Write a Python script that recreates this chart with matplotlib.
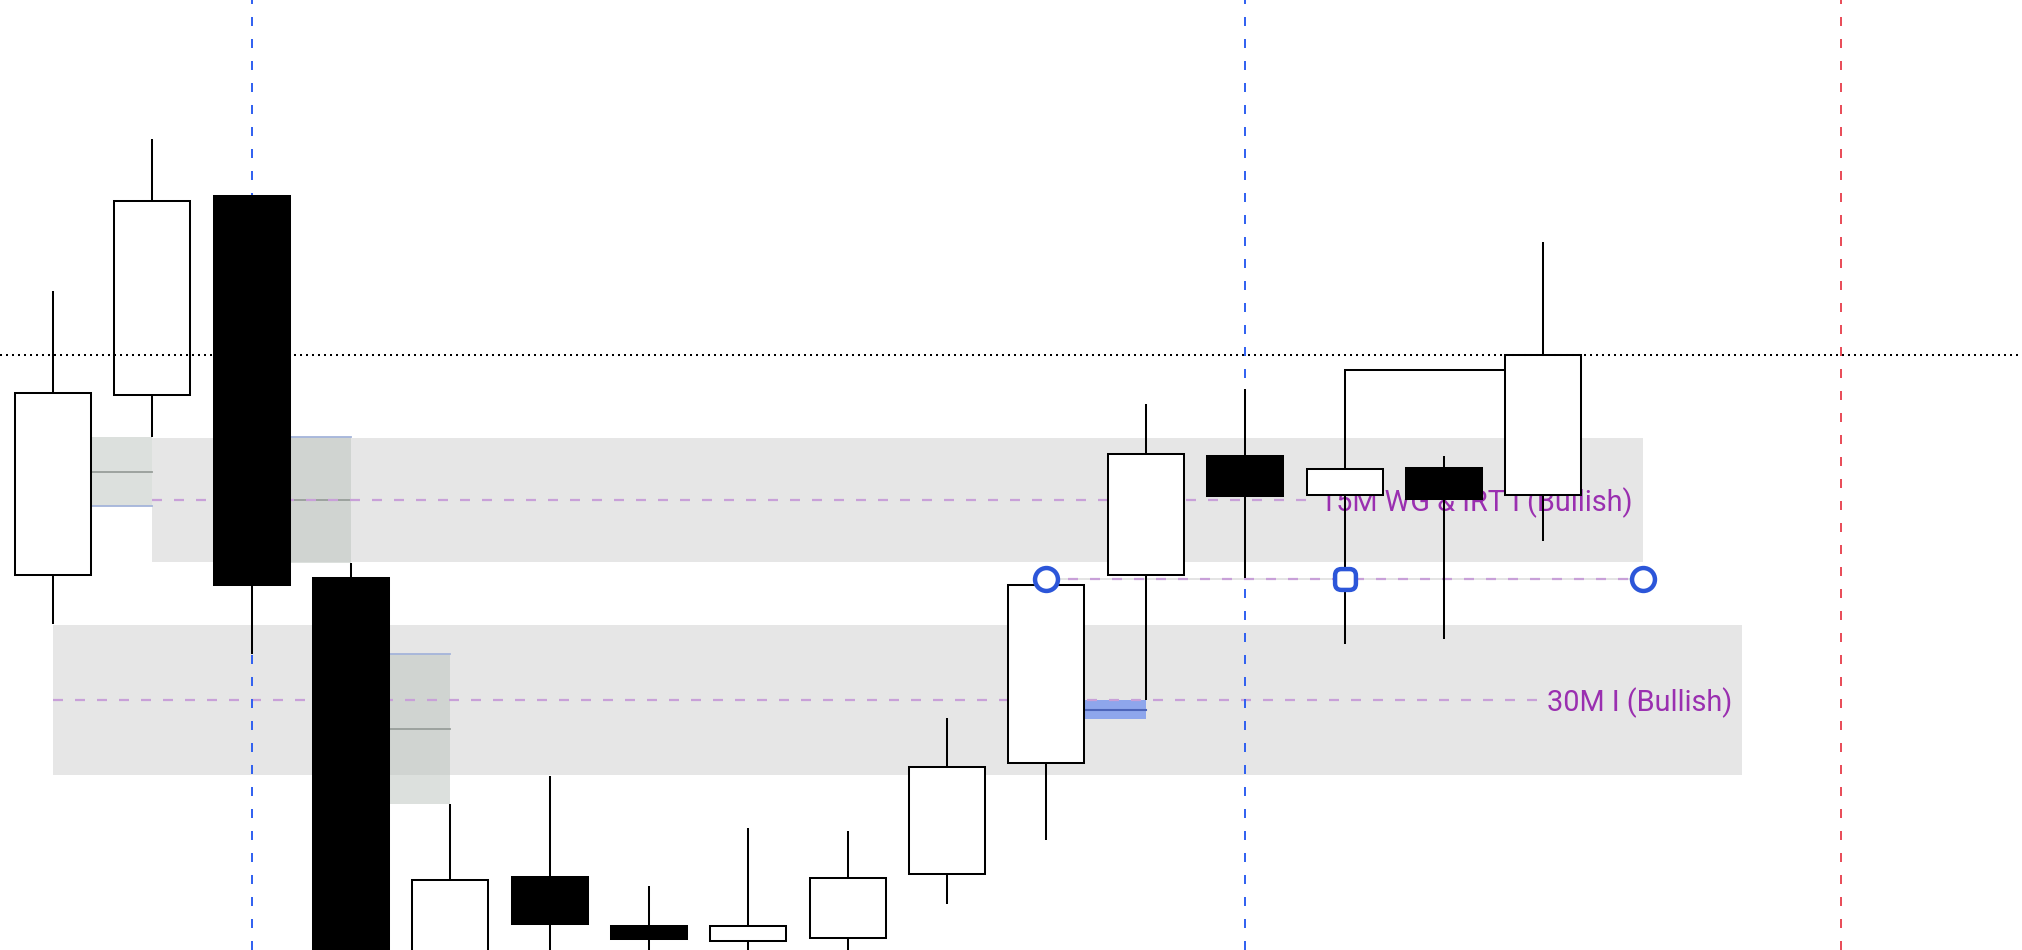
import matplotlib
matplotlib.use("Agg")
import matplotlib.pyplot as plt
from matplotlib.patches import Rectangle, FancyBboxPatch

plt.rcParams['lines.scale_dashes'] = False
plt.rcParams['font.family'] = ['Roboto', 'DejaVu Sans']

# candle data (price units, no axis shown). values below 0 are off the chart
opens  = [375, 555, 754, 372, -20,  73,  24,   9,  12,  76, 187, 375, 494, 455, 482, 455]
highs  = [659, 811, 754, 387, 146, 174,  64, 122, 119, 232, 365, 546, 561, 580, 494, 708]
lows   = [326, 513, 296, -60, -40, -20, -15, -15, -10,  46, 110, 250, 372, 306, 311, 409]
closes = [557, 749, 365, -30,  70,  26,  11,  24,  72, 183, 365, 496, 454, 481, 451, 595]

# zones: start candle, end candle, bottom, top, label
zone_start = [1, 0]
zone_end = [16, 17]
zone_bottom = [388, 175]
zone_top = [512, 325]
zone_labels = ["15M WG & IRT I (Bullish)", "30M I (Bullish)"]

# fair value gaps: candle index, bottom, top, edge level, kind
fvg_idx = [0, 2, 3, 10]
fvg_bottom = [444, 387, 146, 231]
fvg_top = [513, 513, 296, 250]
fvg_edge = [444, 513, 296, None]
fvg_kind = ["bear", "bear", "bear", "bull"]

# liquidity level with markers
level = 371
level_marks = [10, 13, 16]
level_shapes = ["o", "rsq", "o"]

session_lines = [2, 12]
now_line = 18
high_link = (13, 15)

body_w = 0.765
px = 0.72  # points per pixel at dpi 100

fig = plt.figure(figsize=(20.22, 9.5), dpi=100)
ax = fig.add_axes([0, 0, 1, 1])
ax.set_xlim(-0.5335, 19.819)
ax.set_ylim(0, 950)
ax.axis('off')

# zones
for s, e, b, t in zip(zone_start, zone_end, zone_bottom, zone_top):
    ax.add_patch(Rectangle((s, b), e - s, t - b, facecolor='#e6e6e6', lw=0, zorder=1))

# fvg boxes
for i, b, t, edge, k in zip(fvg_idx, fvg_bottom, fvg_top, fvg_edge, fvg_kind):
    x0 = i + body_w / 2
    x1 = i + 1
    if k == "bear":
        ax.add_patch(Rectangle((x0, b), x1 - x0, t - b, facecolor='#bcc5be', alpha=0.52, lw=0, zorder=2))
        ax.plot([x0, x1], [(b + t) / 2] * 2, color='#989e9a', lw=1.3, zorder=2.5)
    else:
        ax.add_patch(Rectangle((x0, b), x1 - x0, t - b, facecolor='#8ea6ec', lw=0, zorder=2))
        ax.plot([x0, x1], [(b + t) / 2] * 2, color='#4c64b9', lw=1.5, zorder=2.5)
    if edge is not None:
        ax.plot([x0, x1], [edge, edge], color='#a4b4da', lw=1.3, zorder=2.5)

# zone labels and mid lines
fig.canvas.draw()
inv = ax.transData.inverted()
for s, e, b, t, lab in zip(zone_start, zone_end, zone_bottom, zone_top, zone_labels):
    mid = (b + t) / 2
    txt = ax.text(e - 0.1, mid - 3, lab, ha='right', va='center', color='#9a2fb0',
                  fontsize=20.8, zorder=3)
    fig.canvas.draw()
    bb = txt.get_window_extent()
    xend = inv.transform((bb.x0 - 8, 0))[0]
    ax.plot([s, xend], [mid, mid], color='#c8a0d8', lw=1.6,
            dashes=(10 * px, 12 * px), zorder=2.7)

# liquidity level
ax.plot([level_marks[0], level_marks[-1]], [level, level], color='#e2e2e2', lw=1.3, zorder=2.6)
ax.plot([level_marks[0], level_marks[-1]], [level, level], color='#c8a0d8', lw=1.6,
        dashes=(10 * px, 12 * px), zorder=2.7)

# session / time lines
for x in session_lines:
    ax.axvline(x, color='#2f5ff0', lw=1.4, dashes=(9 * px, 13 * px), zorder=2.8)
ax.axvline(now_line, color='#e94a56', lw=1.4, dashes=(9 * px, 13 * px), zorder=2.8)

# candles
for i, (o, h, l, c) in enumerate(zip(opens, highs, lows, closes)):
    ax.plot([i, i], [l, h], color='black', lw=1.45, zorder=4, solid_capstyle='butt')
    up = c >= o
    ax.add_patch(Rectangle((i - body_w / 2, min(o, c)), body_w, abs(c - o),
                           facecolor='white' if up else 'black', edgecolor='black',
                           lw=1.45, zorder=5))

# link from candle 13 high to candle 15 body
a, b = high_link
ax.plot([a, b - body_w / 2], [highs[a], highs[a]], color='black', lw=1.45, zorder=4)

# current price
ax.axhline(closes[-1], color='black', lw=1.45, dashes=(2 * px, 4 * px), zorder=6)

# markers on level
rsq = FancyBboxPatch((-0.5, -0.5), 1, 1, boxstyle='round,pad=0,rounding_size=0.3').get_path()
for x, m in zip(level_marks, level_shapes):
    mk = rsq if m == "rsq" else m
    ax.plot([x], [level], marker=mk, markersize=16.5 if m == "o" else 15,
            markerfacecolor='white', markeredgecolor='#2c56d9', markeredgewidth=3.2,
            linestyle='none', zorder=7)

fig.savefig("out.png", dpi=100)
